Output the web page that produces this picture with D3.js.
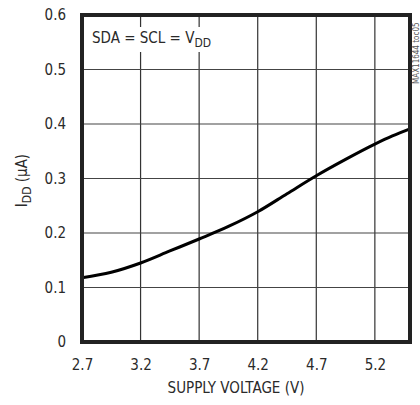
<!DOCTYPE html>
<html>
<head>
<meta charset="utf-8">
<script src="https://cdn.jsdelivr.net/npm/d3@7"></script>
<style>
  body { margin: 0; background: #fff; }
  text { font-family: "Liberation Sans Narrow", "DejaVu Sans Condensed", sans-serif; font-stretch: condensed; fill: #2a2a2a; }
</style>
</head>
<body>
<div id="chart"></div>
<script>
// data
const voltage = [2.7, 2.95, 3.2, 3.45, 3.7, 3.95, 4.2, 4.45, 4.7, 4.95, 5.2, 5.35, 5.5]
const current = [0.118, 0.128, 0.145, 0.167, 0.189, 0.212, 0.239, 0.272, 0.305, 0.335, 0.363, 0.378, 0.391]

const xTicks = [2.7, 3.2, 3.7, 4.2, 4.7, 5.2]
const yTicks = [0, 0.1, 0.2, 0.3, 0.4, 0.5, 0.6]

const W = 420, H = 405
const margin = { top: 15, right: 10, bottom: 63, left: 82 },
  width = W - margin.left - margin.right,
  height = H - margin.top - margin.bottom

const svg = d3.select('#chart')
  .append('svg')
  .attr('width', W)
  .attr('height', H)

const g = svg.append('g')
  .attr('transform', 'translate(' + margin.left + ',' + margin.top + ')')

const x = d3.scaleLinear().domain([2.7, 5.5]).range([0, width])
const y = d3.scaleLinear().domain([0, 0.6]).range([height, 0])

// grid
g.append('g')
  .selectAll('line')
  .data(xTicks.slice(1))
  .join('line')
  .attr('x1', d => x(d)).attr('x2', d => x(d))
  .attr('y1', 0).attr('y2', height)
  .attr('stroke', '#333').attr('stroke-width', 1.2)

g.append('g')
  .selectAll('line')
  .data(yTicks.slice(1, -1))
  .join('line')
  .attr('x1', 0).attr('x2', width)
  .attr('y1', d => y(d)).attr('y2', d => y(d))
  .attr('stroke', '#444').attr('stroke-width', 1.2)

// axes labels
const xAxis = g.append('g')
  .attr('transform', 'translate(0,' + height + ')')
  .call(d3.axisBottom(x).tickValues(xTicks).tickSize(0).tickPadding(17).tickFormat(d3.format('.1f')))
xAxis.select('.domain').remove()
xAxis.selectAll('text').style('font-size', '15px')

const yAxis = g.append('g')
  .call(d3.axisLeft(y).tickValues(yTicks).tickSize(0).tickPadding(16).tickFormat(d => d === 0 ? '0' : d3.format('.1f')(d)))
yAxis.select('.domain').remove()
yAxis.selectAll('text').style('font-size', '15px')
xAxis.attr('font-family', null)
yAxis.attr('font-family', null)

// note box
const noteG = g.append('g')
const note = noteG.append('text')
  .attr('x', 10).attr('y', 28)
  .style('font-size', '15px')
note.append('tspan').text('SDA = SCL = V')
note.append('tspan').attr('dy', 4).style('font-size', '12px').text('DD')
const bb = note.node().getBBox()
noteG.insert('rect', 'text')
  .attr('x', bb.x - 3).attr('y', bb.y - 2)
  .attr('width', bb.width + 6).attr('height', bb.height + 4)
  .attr('fill', '#fff')

// curve
const line = d3.line()
  .x((d, i) => x(voltage[i]))
  .y(d => y(d))
  .curve(d3.curveMonotoneX)

g.append('path')
  .datum(current)
  .attr('d', line)
  .attr('fill', 'none')
  .attr('stroke', '#000')
  .attr('stroke-width', 3)

// frame
g.append('rect')
  .attr('width', width).attr('height', height)
  .attr('fill', 'none')
  .attr('stroke', '#222')
  .attr('stroke-width', 4)

// titles
svg.append('text')
  .attr('x', margin.left + width / 2 - 10).attr('y', H - 12)
  .attr('text-anchor', 'middle')
  .style('font-size', '15px')
  .text('SUPPLY VOLTAGE (V)')

const yl = svg.append('text')
  .attr('transform', 'translate(27,' + (margin.top + height / 2 + 2) + ') rotate(-90)')
  .attr('text-anchor', 'middle')
  .style('font-size', '15px')
yl.append('tspan').text('I')
yl.append('tspan').attr('dy', 4).style('font-size', '12px').text('DD')
yl.append('tspan').attr('dy', -4).text(' (µA)')

svg.append('text')
  .attr('transform', 'translate(419,84) rotate(-90)')
  .style('font-size', '8px')
  .style('fill', '#555')
  .text('MAX11644 toc05')
</script>
</body>
</html>
